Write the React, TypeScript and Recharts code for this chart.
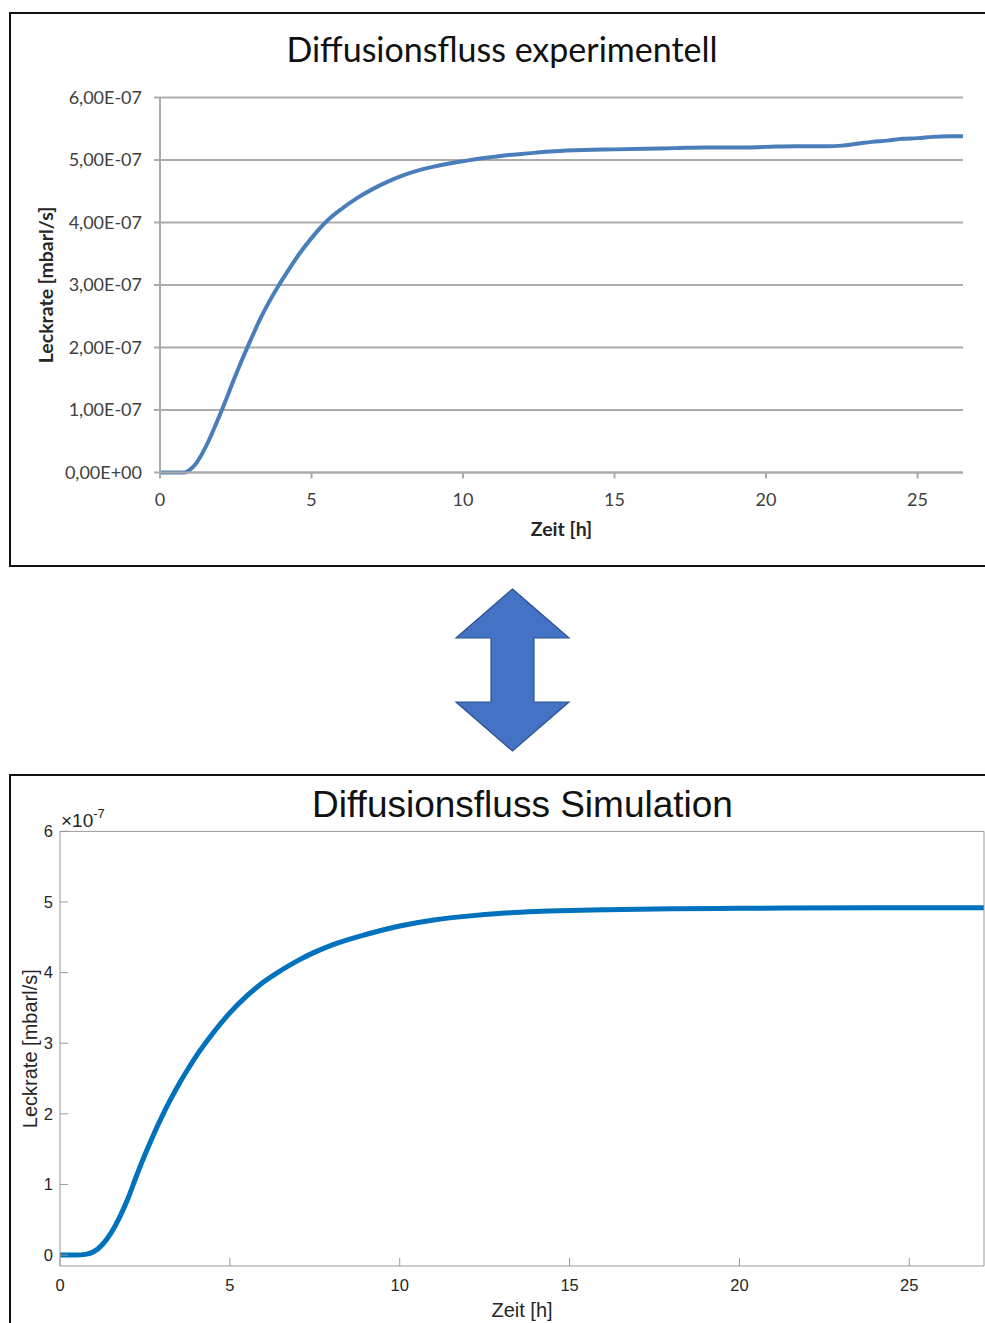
import React from 'react';
import { LineChart, Line, XAxis, YAxis, CartesianGrid } from 'recharts';

// Measured leak rate (units of 1e-7 mbarl/s) over time in hours
const expTime = [
  0, 0.5, 0.8, 1.0, 1.2, 1.4, 1.6, 1.8, 2.0, 2.2, 2.4, 2.6, 2.8, 3.0, 3.3, 3.6, 3.9, 4.2, 4.6,
  5.0, 5.5, 6.0, 6.5, 7.0, 7.5, 8.0, 8.5, 9.0, 9.5, 10.0, 10.5, 11.0, 11.5, 12.0, 13.0, 14.0,
  15.0, 16.0, 17.0, 18.0, 19.0, 20.0, 21.0, 22.0, 22.5, 23.0, 23.5, 24.0, 24.5, 25.0, 25.5,
  26.0, 26.5,
];
const expRate = [
  0, 0, 0, 0.05, 0.15, 0.31, 0.5, 0.72, 0.95, 1.19, 1.44, 1.68, 1.91, 2.13, 2.45, 2.73, 2.98,
  3.21, 3.5, 3.75, 4.02, 4.22, 4.39, 4.53, 4.65, 4.75, 4.83, 4.89, 4.94, 4.98, 5.02, 5.05,
  5.08, 5.1, 5.14, 5.16, 5.17, 5.18, 5.19, 5.2, 5.2, 5.21, 5.22, 5.22, 5.23, 5.26, 5.29, 5.31,
  5.34, 5.35, 5.37, 5.38, 5.38,
];

// Simulated leak rate (units of 1e-7 mbarl/s)
const simTime = [
  0, 0.5, 0.75, 1.0, 1.25, 1.5, 1.75, 2.0, 2.25, 2.5, 2.75, 3.0, 3.25, 3.5, 3.75, 4.0, 4.5,
  5.0, 5.5, 6.0, 6.5, 7.0, 7.5, 8.0, 9.0, 10.0, 11.0, 12.0, 13.0, 14.0, 15.0, 16.0, 18.0,
  20.0, 24.0, 27.2,
];
const simRate = [
  0, 0, 0.01, 0.05, 0.15, 0.31, 0.53, 0.8, 1.12, 1.42, 1.7, 1.96, 2.2, 2.42, 2.62, 2.81, 3.14,
  3.43, 3.67, 3.87, 4.03, 4.17, 4.29, 4.39, 4.54, 4.66, 4.745, 4.8, 4.84, 4.865, 4.88, 4.89,
  4.905, 4.91, 4.92, 4.92,
];

const timeTicks = [0, 5, 10, 15, 20, 25];
const rateTicks = [0, 1, 2, 3, 4, 5, 6];

const expData = expTime.map((t, i) => ({ t, rate: expRate[i] }));
const simData = simTime.map((t, i) => ({ t, rate: simRate[i] }));

const fmtExcel = (v: number) =>
  v === 0 ? '0,00E+00' : `${v.toFixed(2).replace('.', ',')}E-07`;

const GRID = '#ababab';
const BOX = '#9a9a9a';

export default function App() {
  return (
    <div
      style={{
        position: 'absolute',
        left: 0,
        top: 0,
        width: 985,
        height: 1323,
        overflow: 'hidden',
        background: '#fff',
      }}
    >
      {/* frames */}
      <div
        style={{
          position: 'absolute',
          left: 9,
          top: 12,
          width: 990,
          height: 555,
          border: '2px solid #111',
          boxSizing: 'border-box',
        }}
      />
      <div
        style={{
          position: 'absolute',
          left: 9,
          top: 774,
          width: 990,
          height: 600,
          border: '2px solid #111',
          boxSizing: 'border-box',
        }}
      />

      {/* experimental chart */}
      <div style={{ position: 'absolute', left: 0, top: 0 }}>
        <LineChart
          width={985}
          height={570}
          data={expData}
          margin={{ top: 97.5, right: 22, bottom: 27.5, left: 60 }}
        >
          <CartesianGrid vertical={false} stroke={GRID} strokeWidth={2} />
          <XAxis
            dataKey="t"
            type="number"
            domain={[0, 26.5]}
            allowDataOverflow
            ticks={timeTicks}
            interval={0}
            height={70}
            tickSize={6}
            tickMargin={15}
            axisLine={{ stroke: GRID, strokeWidth: 2 }}
            tickLine={{ stroke: GRID, strokeWidth: 2 }}
            tick={{ fontSize: 18, fill: '#404040', fontFamily: 'Lato' }}
            label={{
              value: 'Zeit [h]',
              position: 'insideBottom',
              offset: 6.5,
              style: { fontSize: 19.5, fontWeight: 700, fill: '#262626', fontFamily: 'Lato' },
            }}
          />
          <YAxis
            type="number"
            domain={[0, 6]}
            ticks={rateTicks}
            interval={0}
            width={100}
            tickSize={6}
            tickMargin={12}
            tickFormatter={fmtExcel}
            axisLine={{ stroke: GRID, strokeWidth: 2 }}
            tickLine={{ stroke: GRID, strokeWidth: 2 }}
            tick={{ fontSize: 18, fill: '#404040', fontFamily: 'Lato' }}
            label={{
              value: 'Leckrate [mbarl/s]',
              angle: -90,
              position: 'insideLeft',
              offset: -14,
              style: {
                textAnchor: 'middle',
                fontSize: 19.5,
                fontWeight: 700,
                fill: '#262626',
                fontFamily: 'Lato',
              },
            }}
          />
          <Line
            type="monotone"
            dataKey="rate"
            stroke="#4a7ebb"
            strokeWidth={4}
            dot={false}
            isAnimationActive={false}
          />
        </LineChart>
      </div>

      {/* simulation chart */}
      <div style={{ position: 'absolute', left: 0, top: 770 }}>
        <LineChart
          width={985}
          height={553}
          data={simData}
          margin={{ top: 60.4, right: 0, bottom: 7, left: 10 }}
        >
          <XAxis
            dataKey="t"
            type="number"
            domain={[0, 27.2]}
            allowDataOverflow
            ticks={timeTicks}
            interval={0}
            height={50}
            tickSize={-8}
            tickMargin={21}
            axisLine={{ stroke: BOX, strokeWidth: 1 }}
            tickLine={{ stroke: BOX, strokeWidth: 1 }}
            tick={{ fontSize: 16.5, fill: '#262626', fontFamily: 'Liberation Sans' }}
            label={{
              value: 'Zeit [h]',
              position: 'insideBottom',
              offset: -1,
              style: { fontSize: 20, fill: '#262626', fontFamily: 'Liberation Sans' },
            }}
          />
          <XAxis
            xAxisId="top"
            orientation="top"
            type="number"
            domain={[0, 27.2]}
            allowDataOverflow
            ticks={timeTicks}
            interval={0}
            height={1}
            tickSize={-8}
            tick={false}
            axisLine={{ stroke: BOX, strokeWidth: 1 }}
            tickLine={{ stroke: BOX, strokeWidth: 1 }}
          />
          <YAxis
            type="number"
            domain={[-0.155, 6]}
            allowDataOverflow
            ticks={rateTicks}
            interval={0}
            width={50}
            tickSize={-8}
            tickMargin={15}
            axisLine={{ stroke: BOX, strokeWidth: 1 }}
            tickLine={{ stroke: BOX, strokeWidth: 1 }}
            tick={{ fontSize: 16.5, fill: '#262626', fontFamily: 'Liberation Sans' }}
            label={{
              value: 'Leckrate [mbarl/s]',
              angle: -90,
              position: 'insideLeft',
              offset: 20,
              style: {
                textAnchor: 'middle',
                fontSize: 20,
                fill: '#262626',
                fontFamily: 'Liberation Sans',
              },
            }}
          />
          <YAxis
            yAxisId="right"
            orientation="right"
            type="number"
            domain={[-0.155, 6]}
            allowDataOverflow
            ticks={rateTicks}
            interval={0}
            width={1}
            tickSize={-8}
            tick={false}
            axisLine={{ stroke: BOX, strokeWidth: 1 }}
            tickLine={{ stroke: BOX, strokeWidth: 1 }}
          />
          <Line
            type="monotone"
            dataKey="rate"
            stroke="#0072bd"
            strokeWidth={5}
            dot={false}
            isAnimationActive={false}
          />
        </LineChart>
      </div>

      {/* titles, scale factor and the connecting arrow */}
      <svg
        width={985}
        height={1323}
        style={{ position: 'absolute', left: 0, top: 0, pointerEvents: 'none' }}
      >
        <text
          x={502}
          y={61.5}
          textAnchor="middle"
          fontFamily="Lato"
          fontSize={34}
          fill="#111"
        >
          Diffusionsfluss experimentell
        </text>
        <polygon
          points="512.5,589 569,638 534,638 534,702 569,702 512.5,751 456,702 491,702 491,638 456,638"
          fill="#4472c4"
          stroke="#2f528f"
          strokeWidth={1.2}
        />
        <text
          x={522.5}
          y={817}
          textAnchor="middle"
          fontFamily="Liberation Sans"
          fontSize={37}
          fill="#111"
        >
          Diffusionsfluss Simulation
        </text>
        <text x={61} y={826.5} fontFamily="Liberation Sans" fontSize={19} fill="#262626">
          ×10
          <tspan dy={-9} fontSize={13}>
            -7
          </tspan>
        </text>
      </svg>
    </div>
  );
}
